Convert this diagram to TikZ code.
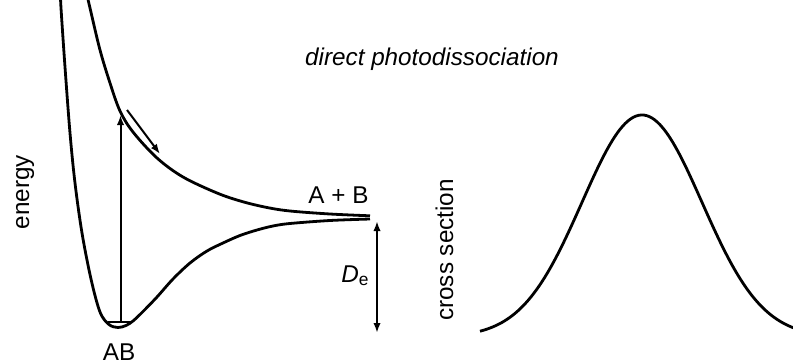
\documentclass[tikz,border=0pt]{standalone}
\usepackage{fontspec}
\setmainfont{Liberation Sans}
\usetikzlibrary{arrows.meta}
\begin{document}
\begin{tikzpicture}[x=0.75pt,y=-0.75pt,
  curve/.style={line width=2.1pt, line join=round},
  arr/.style={line width=1.5pt, -{Latex[length=7.5pt,width=5.5pt]}},
  darr/.style={line width=1.5pt, {Latex[length=7.5pt,width=5.5pt]}-{Latex[length=7.5pt,width=5.5pt]}},
  lbl/.style={inner sep=0pt, font=\fontsize{18.2}{20}\selectfont}]
\useasboundingbox (0,0) rectangle (793,364);
\begin{scope}
\clip (0,0) rectangle (793,364);
% ground state
\draw[curve] plot[smooth, tension=0.55] coordinates {(60.5,-5) (61,8) (65,67) (70,133) (75,183) (82,233) (91,279) (100,312) (109,324.5) (118,327.5) (126,325.5) (133,321) (143,311.5) (157,297) (173,279) (190,263) (207,251) (223,243) (240,235.5) (257,230) (273,226) (290,223.5) (330,220.5) (370,219)};
% excited state
\draw[curve] plot[smooth, tension=0.55] coordinates {(87,-5) (90,8) (100,50) (110,83) (120,111) (133,132) (157,158) (183,177) (217,193) (242,201.5) (267,207.5) (290,211) (330,214) (370,215.8)};
% cross section
\draw[curve] plot[domain=480:800, samples=120, smooth] ({\x},{337-222*exp(-0.5*((\x-642)/60)^2)});
\end{scope}
% vibrational level
\draw[line width=1pt] (108,322) -- (133,322);
\coordinate (v0) at (120.5,322);
\coordinate (v1) at (120.5,115);
\draw[arr] (v0) -- (v1);
\coordinate (s0) at (127,110);
\coordinate (s1) at (160,154);
\draw[arr] (s0) -- (s1);
\coordinate (d0) at (377,221);
\coordinate (d1) at (377,333);
\draw[darr] (d0) -- (d1);
\node[lbl, anchor=base, font=\fontsize{18.2}{20}\selectfont\itshape] (title) at (432,65) {direct photodissociation};
\node[lbl, anchor=base] (ab2) at (338.5,203) {A + B};
\node[lbl, anchor=base] (de) at (355,282) {\textit{D}\raisebox{-2.5pt}{\fontsize{13}{13}\selectfont e}};
\node[lbl, anchor=base] (ab) at (119,360) {AB};
\node[lbl, anchor=base, rotate=90] (en) at (29,192) {energy};
\node[lbl, anchor=base, rotate=90] (cs) at (453,250) {cross section};
\end{tikzpicture}
\end{document}
